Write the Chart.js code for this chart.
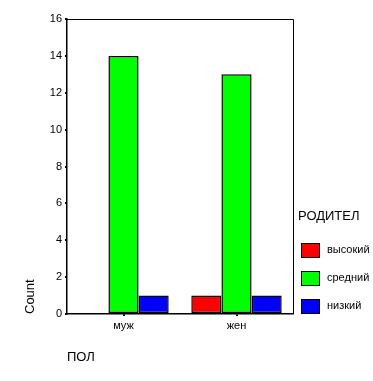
<!DOCTYPE html>
<html>
<head>
<meta charset="utf-8">
<script src="https://cdn.jsdelivr.net/npm/chart.js@4/dist/chart.umd.min.js"></script>
<style>
  html, body { margin: 0; padding: 0; background: #fff; }
  #wrap { width: 373px; height: 381px; }
</style>
</head>
<body>
<div id="wrap"><canvas id="chart" width="373" height="381"></canvas></div>
<script>
const categories = ["муж", "жен"];
const seriesNames = ["высокий", "средний", "низкий"];
const seriesColors = ["#ff0000", "#00ff00", "#0000ff"];
const highValues = [0, 1];
const midValues = [14, 13];
const lowValues = [1, 1];
const yTicks = [0, 2, 4, 6, 8, 10, 12, 14, 16];

const legendTitle = "РОДИТЕЛ";
const xTitle = "ПОЛ";
const yTitle = "Count";

const font = "'Liberation Sans', Arial, sans-serif";

// рамка сверху и справа + легенда справа
const framePlugin = {
    id: 'frameAndLegend',
    afterDraw: (chart) => {
        const ctx = chart.ctx;
        const a = chart.chartArea;
        ctx.save();
        ctx.strokeStyle = "#000";
        ctx.lineWidth = 1;
        ctx.beginPath();
        ctx.moveTo(a.left, a.top + 0.5);
        ctx.lineTo(a.right + 0.5, a.top + 0.5);
        ctx.lineTo(a.right + 0.5, a.bottom);
        ctx.stroke();

        // легенда
        const lx = a.right + 5;
        ctx.fillStyle = "#000";
        ctx.font = "13px " + font;
        ctx.textBaseline = "middle";
        ctx.textAlign = "left";
        ctx.fillText(legendTitle, lx, 216);

        chart.data.datasets.forEach((ds, i) => {
            const by = 243 + i * 28;
            ctx.fillStyle = ds.backgroundColor;
            ctx.fillRect(lx + 3, by, 18, 14);
            ctx.strokeStyle = "#000";
            ctx.strokeRect(lx + 3.5, by + 0.5, 18, 14);
            ctx.fillStyle = "#000";
            ctx.font = "11px " + font;
            ctx.fillText(ds.label, lx + 29, by + 7);
        });
        ctx.restore();
    }
};

const values = [highValues, midValues, lowValues];

new Chart(document.getElementById("chart"), {
    type: "bar",
    plugins: [framePlugin],
    data: {
        labels: categories,
        datasets: seriesNames.map((name, i) => ({
            label: name,
            data: values[i],
            backgroundColor: seriesColors[i],
            borderColor: "#000",
            borderWidth: 1.5,
            borderSkipped: false,
            categoryPercentage: 0.8,
            barPercentage: 1.0
        }))
    },
    options: {
        responsive: false,
        animation: false,
        layout: { padding: { top: 19, right: 80, left: 0, bottom: 0 } },
        plugins: {
            legend: { display: false },
            tooltip: { enabled: false }
        },
        scales: {
            x: {
                grid: {
                    display: true,
                    drawOnChartArea: false,
                    offset: false,
                    color: "#000",
                    lineWidth: 2,
                    tickLength: 2
                },
                border: { color: "#000", width: 1.5, z: 1 },
                ticks: {
                    color: "#000",
                    padding: 3,
                    font: { family: font, size: 11 }
                },
                title: {
                    display: true,
                    text: xTitle,
                    align: "start",
                    color: "#000",
                    font: { family: font, size: 13 },
                    padding: { top: 0, bottom: 16 }
                },
                afterFit: (s) => { s.height = 67; }
            },
            y: {
                min: 0,
                max: 16,
                afterBuildTicks: (s) => { s.ticks = yTicks.map(v => ({ value: v })); },
                grid: {
                    display: true,
                    drawOnChartArea: false,
                    color: "#000",
                    lineWidth: 2,
                    tickLength: 2
                },
                border: { color: "#000", width: 1.5 },
                ticks: {
                    color: "#000",
                    padding: 3,
                    font: { family: font, size: 11 }
                },
                title: {
                    display: true,
                    text: yTitle,
                    align: "start",
                    color: "#000",
                    font: { family: font, size: 13 },
                    padding: { top: 23, bottom: 0 }
                },
                afterFit: (s) => { s.width = 67; }
            }
        }
    }
});
</script>
</body>
</html>
